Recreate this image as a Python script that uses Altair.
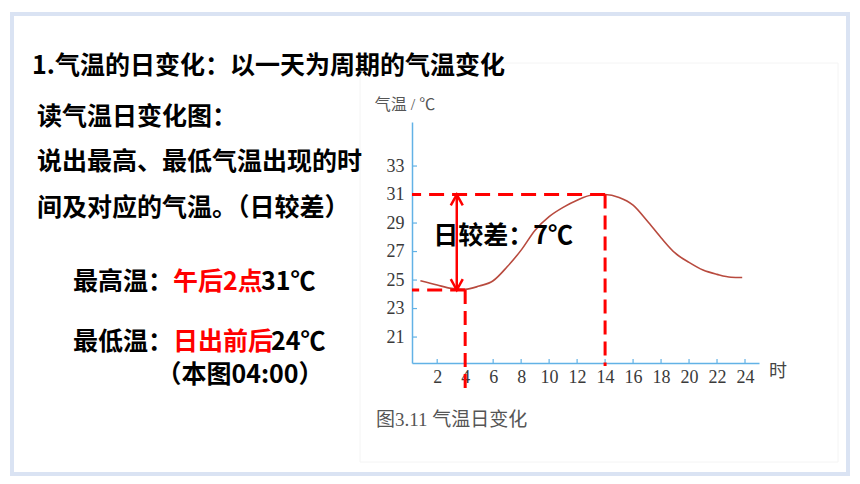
import altair as alt
import pandas as pd

# ---- data ----
hours = [0.8, 2, 3, 4, 5, 6, 7, 8, 9, 10, 11, 12, 13, 14, 15, 16, 17, 18, 19, 20, 21, 22, 23, 23.8]
temps = [24.95, 24.65, 24.42, 24.35, 24.58, 24.95, 25.93, 27.1, 28.5, 29.45, 30.1, 30.6, 30.95,
         31.0, 30.8, 30.26, 29.16, 27.97, 26.9, 26.24, 25.7, 25.4, 25.2, 25.18]
x_ticks = [2, 4, 6, 8, 10, 12, 14, 16, 18, 20, 22, 24]
y_ticks = [21, 23, 25, 27, 29, 31, 33]
max_hour, max_temp = 14, 31
min_hour, min_temp = 4, 24.3
arrow_hour = 3.4

title_text = "1.气温的日变化：以一天为周期的气温变化"
body_lines = ["读气温日变化图：", "说出最高、最低气温出现的时", "间及对应的气温。（日较差）"]
high_parts = ["最高温：", "午后2点", "31℃"]
low_parts = ["最低温：", "日出前后", "24℃"]
low_note = "（本图04:00）"
range_text = "日较差：7℃"
y_title = "气温 / ℃"
x_title = "时"
caption = "图3.11 气温日变化"

# ---- styling ----
W, H = 347, 241
BLUE = "#62b2e6"
RED = "#ff0000"
CURVE = "#b84a3e"
CJK = "Noto Sans CJK SC"
SERIF = "Liberation Serif, Noto Sans CJK SC"

XS = alt.Scale(domain=[0.2, 25.0], nice=False, zero=False)
YS = alt.Scale(domain=[19.18, 36.09], nice=False, zero=False)
AX = alt.Axis(values=x_ticks, title=None, grid=False, ticks=False, domainColor=BLUE, domainWidth=1.5,
              labelFont=SERIF, labelFontSize=18, labelColor="#3a3a3a", labelPadding=5, labelFlush=False)
AY = alt.Axis(values=y_ticks, title=None, grid=False, ticks=False, domainColor=BLUE, domainWidth=1.5,
              labelFont=SERIF, labelFontSize=18, labelColor="#3a3a3a", labelPadding=8)


def X(f):
    return alt.X(f, scale=XS, axis=AX)


def Y(f):
    return alt.Y(f, scale=YS, axis=AY)


curve_df = pd.DataFrame({"hour": hours, "temp": temps})
one = alt.Data(values=[{}])

frame = alt.Chart(one).mark_rect(fillOpacity=0, stroke="#dae3f3", strokeWidth=4).encode(
    x=alt.value(-400), x2=alt.value(436), y=alt.value(-108), y2=alt.value(352))
img_bg = alt.Chart(one).mark_rect(fillOpacity=0, stroke="#f4f4f4", strokeWidth=1).encode(
    x=alt.value(-52), x2=alt.value(426), y=alt.value(-59), y2=alt.value(340))

curve = alt.Chart(curve_df).mark_line(color=CURVE, strokeWidth=1.6, interpolate="monotone").encode(
    x=X("hour:Q"), y=Y("temp:Q"))

xt = alt.Chart(pd.DataFrame({"hour": x_ticks})).mark_rule(color=BLUE, strokeWidth=1.2).encode(
    x=X("hour:Q"), y=alt.value(H), y2=alt.value(H - 4))
yt = alt.Chart(pd.DataFrame({"temp": y_ticks})).mark_rule(color=BLUE, strokeWidth=1.2).encode(
    y=Y("temp:Q"), x=alt.value(0), x2=alt.value(5))

ext = pd.DataFrame({"hour": [max_hour, min_hour], "temp": [max_temp, min_temp],
                    "kind": ["max", "min"]})
hdash = alt.Chart(ext).mark_rule(color=RED, strokeWidth=3, strokeDash=[15, 8]).encode(
    x=X("hour:Q"), x2=alt.value(0), y=Y("temp:Q"))
vdash_max = alt.Chart(ext[ext.kind == "max"]).mark_rule(color=RED, strokeWidth=3, strokeDash=[14, 7]).encode(
    x=X("hour:Q"), y=Y("temp:Q"), y2=alt.value(H + 3))
vdash_min = alt.Chart(ext[ext.kind == "min"]).mark_rule(color=RED, strokeWidth=3, strokeDash=[14, 7]).encode(
    x=X("hour:Q"), y=Y("temp:Q"), y2=alt.value(H + 25))

arrow_df = pd.DataFrame({"hour": [arrow_hour], "top": [max_temp], "bottom": [min_temp]})
arrow_line = alt.Chart(arrow_df).mark_rule(color=RED, strokeWidth=2.5).encode(
    x=X("hour:Q"), y=Y("top:Q"), y2="bottom:Q")
head_up = alt.Chart(arrow_df).mark_point(shape="M -1 1.8 L 0 0 L 1 1.8", filled=False, size=144,
                                         color=RED, strokeWidth=2.5, opacity=1).encode(
    x=X("hour:Q"), y=Y("top:Q"))
head_dn = alt.Chart(arrow_df).mark_point(shape="M -1 -1.8 L 0 0 L 1 -1.8", filled=False, size=144,
                                         color=RED, strokeWidth=2.5, opacity=1).encode(
    x=X("hour:Q"), y=Y("bottom:Q"))


def txt(s, x, y, size=25, color="#000000", weight="bold", align="left", font=CJK):
    return alt.Chart(one).mark_text(text=s, font=font, fontSize=size, fontWeight=weight, color=color,
                                    align=align, baseline="middle").encode(x=alt.value(x), y=alt.value(y))


texts = [
    txt(title_text, -380, -56, size=25),
    txt(body_lines[0], -375, -5, size=25),
    txt(body_lines[1], -375, 40, size=25),
    txt(body_lines[2], -375, 86, size=25),
    txt(high_parts[0], -339, 160, size=25),
    txt(high_parts[1], -239, 160, size=25, color=RED),
    txt(high_parts[2], -151, 160, size=25),
    txt(low_parts[0], -339, 220, size=25),
    txt(low_parts[1], -239, 220, size=25, color=RED),
    txt(low_parts[2], -141, 220, size=25),
    txt(low_note, -172, 253, size=25, align="center"),
    txt(range_text, 91, 114, size=25, align="center"),
    txt(y_title, -7, -17, size=16, color="#555555", weight="normal", align="center", font=SERIF),
    txt(x_title, 366, 250, size=18, color="#444444", weight="normal", align="center", font=SERIF),
    txt(caption, -36, 298, size=19, color="#555555", weight="normal", align="left", font=SERIF),
]

chart = alt.layer(
    frame, img_bg, curve, xt, yt, hdash, vdash_max, vdash_min, arrow_line, head_up, head_dn, *texts
).properties(
    width=W, height=H,
    autosize=alt.AutoSizeParams(type="none"),
    padding={"left": 412, "top": 122, "right": 101, "bottom": 121},
    background="white",
).configure_view(stroke="transparent")

chart.save("out.html", embed_options={"renderer": "svg", "actions": False})
